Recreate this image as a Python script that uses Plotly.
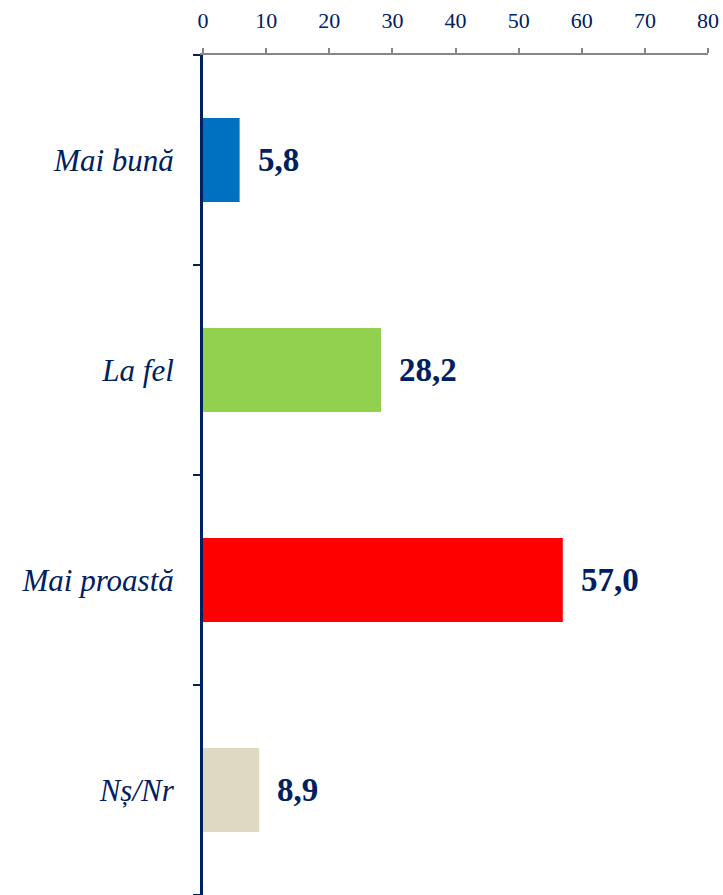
import plotly.graph_objects as go

categories = ["Mai bună", "La fel", "Mai proastă", "Nș/Nr"]
values = [5.8, 28.2, 57.0, 8.9]
labels = ["5,8", "28,2", "57,0", "8,9"]
colors = ["#0070C0", "#92D050", "#FF0000", "#DDD9C3"]
tick_vals = [0, 10, 20, 30, 40, 50, 60, 70, 80]

NAVY = "#002060"
FONT = "Liberation Serif"

fig = go.Figure(go.Bar(
    y=categories, x=values, orientation="h",
    marker=dict(color=colors, line=dict(width=0)),
    width=0.4, hoverinfo="skip",
))

for c, v, t in zip(categories, values, labels):
    fig.add_annotation(x=v, y=c, text=f"<b>{t}</b>", showarrow=False,
                       xanchor="left", xshift=16,
                       font=dict(family=FONT, size=33, color=NAVY))

fig.update_layout(
    width=723, height=895,
    margin=dict(l=203, r=15, t=55, b=0),
    plot_bgcolor="white", paper_bgcolor="white",
    showlegend=False,
    bargap=0.6,
)
fig.update_xaxes(
    side="top", range=[0, 80], tickvals=tick_vals,
    showgrid=False, zeroline=False,
    showline=True, linecolor="#868686", linewidth=2,
    ticks="outside", ticklen=5, tickcolor="#868686", tickwidth=1.5,
    tickfont=dict(family=FONT, size=22, color=NAVY),
    ticklabelstandoff=11, ticklabeloverflow="allow",
)
fig.update_yaxes(
    autorange="reversed", showgrid=False, zeroline=False,
    showline=True, linecolor=NAVY, linewidth=3,
    ticks="outside", tickson="boundaries", ticklen=7, tickcolor=NAVY, tickwidth=2,
    tickfont=dict(family=FONT, size=31, color=NAVY),
    ticklabelstandoff=20,
)
fig.update_yaxes(tickvals=categories, ticktext=[f"<i>{c}</i>" for c in categories])

fig.write_html(
    "out.html",
    config={"displayModeBar": False},
    post_script="document.body.style.margin='0';document.body.style.overflow='hidden';",
)
